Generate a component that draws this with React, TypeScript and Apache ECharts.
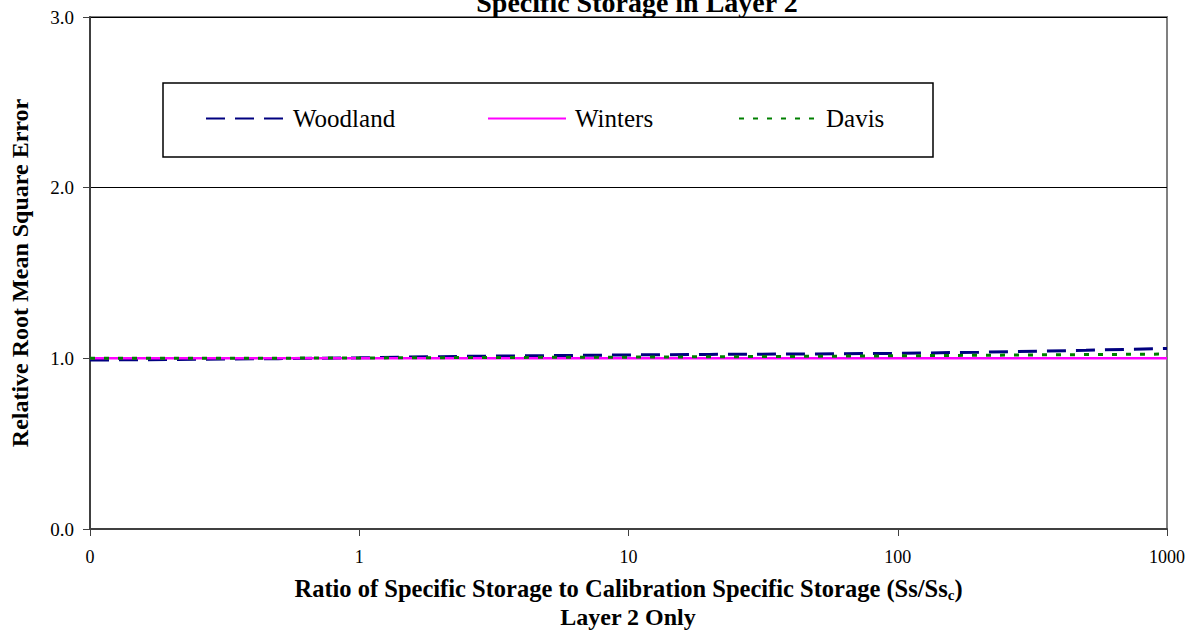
import React, { useEffect, useRef } from "react";
import * as echarts from "echarts";

const ratios = [0.1, 0.2, 0.5, 1, 2, 5, 10, 20, 50, 100, 200, 500, 1000];
const woodland = [0.99, 0.993, 0.998, 1.003, 1.01, 1.016, 1.02, 1.023, 1.026, 1.029, 1.036, 1.047, 1.058];
const winters = [1.0, 1.0, 1.0, 1.0, 1.0, 1.0, 1.0, 1.0, 1.0, 1.0, 1.0, 1.0, 1.0];
const davis = [1.0, 1.0, 1.001, 1.002, 1.004, 1.006, 1.007, 1.009, 1.012, 1.015, 1.018, 1.022, 1.025];
const seriesNames = ["Woodland", "Winters", "Davis"];
const seriesColors = ["#000080", "#FF00FF", "#008000"];

const FONT = "'Liberation Serif', 'DejaVu Serif', serif";

export default function App() {
  const ref = useRef<HTMLDivElement>(null);
  useEffect(() => {
    if (!ref.current) return;
    const chart = echarts.init(ref.current, undefined, { renderer: "svg" });
    const pairs = (ys: number[]) => ratios.map((x, i) => [x, ys[i]]);
    const legendLefts = [205, 487, 738];
    chart.setOption({
      animation: false,
      backgroundColor: "#ffffff",
      textStyle: { fontFamily: FONT, color: "#000" },
      grid: {
        left: 89, right: 35, top: 17, bottom: 112,
        show: true, borderColor: "#808080", borderWidth: 2, backgroundColor: "#fff",
      },
      xAxis: {
        type: "log", logBase: 10, min: 0.1, max: 1000,
        name: "Ratio of Specific Storage to Calibration Specific Storage (Ss/Ss{sub|c})",
        nameLocation: "middle", nameGap: 46,
        nameTextStyle: {
          fontFamily: FONT, fontSize: 24.5, fontWeight: "bold", color: "#000",
          rich: { sub: { fontFamily: FONT, fontSize: 15, fontWeight: "bold", verticalAlign: "bottom", padding: [12, 0, 0, 0] } },
        },
        axisLine: { show: true, lineStyle: { color: "#404040", width: 2 } },
        axisTick: { show: true, length: 7, inside: false, lineStyle: { color: "#404040", width: 1 } },
        minorTick: { show: false },
        splitLine: { show: false },
        axisLabel: {
          fontFamily: FONT, fontSize: 18, color: "#000", margin: 19,
          formatter: (v: number) => (v < 1 ? "0" : String(Math.round(v))),
        },
      },
      yAxis: {
        type: "value", min: 0, max: 3, interval: 1,
        name: "Relative Root Mean Square Error",
        nameLocation: "middle", nameGap: 58,
        nameTextStyle: { fontFamily: FONT, fontSize: 24, fontWeight: "bold", color: "#000" },
        axisLine: { show: true, lineStyle: { color: "#404040", width: 2 } },
        axisTick: { show: true, length: 7, inside: false, lineStyle: { color: "#404040", width: 1 } },
        splitLine: { show: true, lineStyle: { color: "#000", width: 1 } },
        axisLabel: {
          fontFamily: FONT, fontSize: 19, color: "#000", margin: 16,
          formatter: (v: number) => v.toFixed(1),
        },
      },
      legend: seriesNames.map((n, i) => ({
        data: [n],
        left: legendLefts[i], top: 106,
        padding: 0,
        itemWidth: 78, itemHeight: 26, itemGap: 0,
        itemStyle: { opacity: 0, color: "rgba(0,0,0,0)", borderColor: "rgba(0,0,0,0)", borderWidth: 0 },
        textStyle: { fontFamily: FONT, fontSize: 25, color: "#000", padding: [0, 0, 0, 4] },
      })),
      graphic: [
        {
          type: "rect", shape: { x: 163, y: 83, width: 770, height: 74 },
          style: { fill: "none", stroke: "#000", lineWidth: 1.5 }, z: 0,
        },
        {
          type: "text", x: 637, y: 2,
          style: { text: "Specific Storage in Layer 2", font: `bold 28px ${FONT}`, fill: "#000", textAlign: "center", textVerticalAlign: "middle" },
        },
        {
          type: "text", x: 628, y: 617,
          style: { text: "Layer 2 Only", font: `bold 24px ${FONT}`, fill: "#000", textAlign: "center", textVerticalAlign: "middle" },
        },
      ],
      series: [
        {
          name: "Woodland", type: "line", data: pairs(woodland), showSymbol: false, symbol: "none",
          lineStyle: { color: seriesColors[0], width: 3, type: [19, 10] }, itemStyle: { color: seriesColors[0] }, z: 3,
        },
        {
          name: "Winters", type: "line", data: pairs(winters), showSymbol: false, symbol: "none",
          lineStyle: { color: seriesColors[1], width: 2.5, type: "solid" }, itemStyle: { color: seriesColors[1] }, z: 4,
        },
        {
          name: "Davis", type: "line", data: pairs(davis), showSymbol: false, symbol: "none",
          lineStyle: { color: seriesColors[2], width: 3, type: [5, 9] }, itemStyle: { color: seriesColors[2] }, z: 5,
        },
      ],
    });
    return () => chart.dispose();
  }, []);
  return <div ref={ref} style={{ position: "fixed", left: 0, top: 0, width: 1202, height: 641 }} />;
}
